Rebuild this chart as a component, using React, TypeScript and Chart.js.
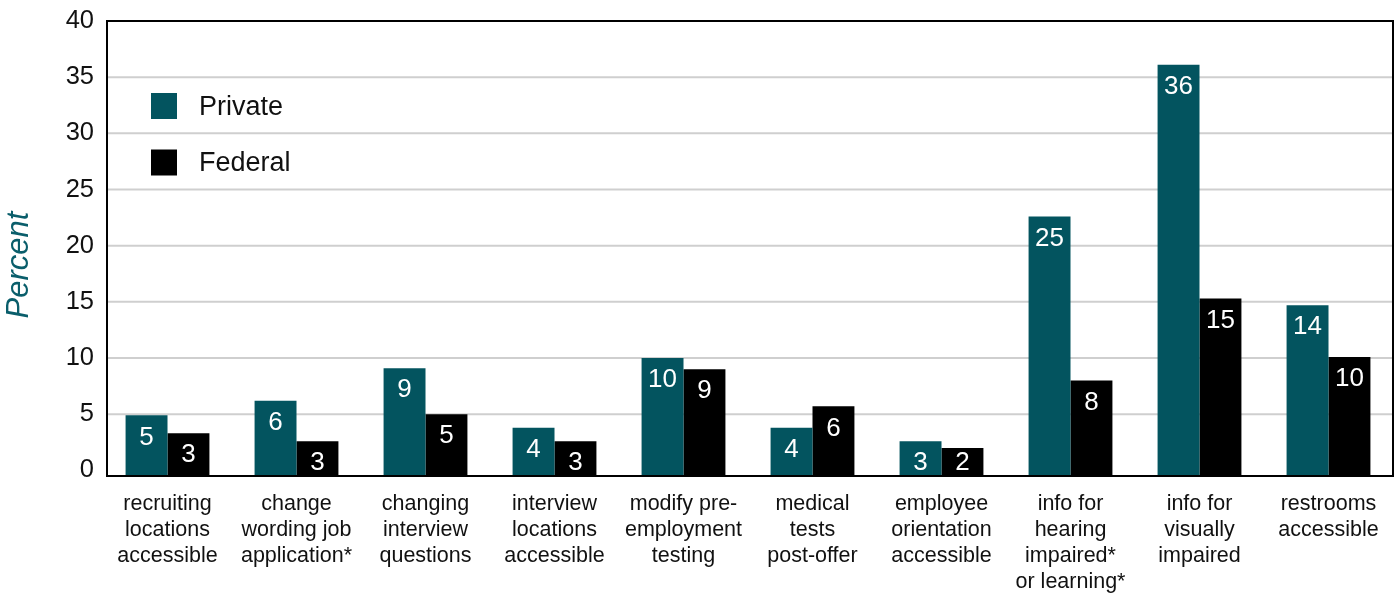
import React, { useEffect, useRef } from "react";
import { Chart, registerables } from "chart.js";

Chart.register(...registerables);

const categories: string[][] = [
  ["recruiting", "locations", "accessible"],
  ["change", "wording job", "application*"],
  ["changing", "interview", "questions"],
  ["interview", "locations", "accessible"],
  ["modify pre-", "employment", "testing"],
  ["medical", "tests", "post-offer"],
  ["employee", "orientation", "accessible"],
  ["info for", "hearing", "impaired*", "or learning*"],
  ["info for", "visually", "impaired"],
  ["restrooms", "accessible"],
];

const seriesNames = ["Private", "Federal"];

// bar heights as drawn in the picture
const privateValues = [4.9, 6.2, 9.1, 3.8, 10.0, 3.8, 2.6, 22.6, 36.1, 14.7];
const federalValues = [3.3, 2.6, 5.0, 2.6, 9.0, 5.7, 2.0, 8.0, 15.3, 10.1];

// numbers printed on the bars
const privateLabels = [5, 6, 9, 4, 10, 4, 3, 25, 36, 14];
const federalLabels = [3, 3, 5, 3, 9, 6, 2, 8, 15, 10];

const tickValues = [0, 5, 10, 15, 20, 25, 30, 35, 40];
const yMin = -0.5;
const yMax = 40;

const axisTitle = "Percent";

const TEAL = "#03545F";
const BLACK = "#000000";
const GRID = "#cfcfcf";
const FONT = '"Liberation Sans", Arial, sans-serif';
const FRAME_LEFT = 107;

const colors = [TEAL, BLACK];
const labelSets = [privateLabels, federalLabels];

const overlayPlugin = {
  id: "overlay",
  beforeDatasetsDraw(chart: any) {
    const ctx = chart.ctx as CanvasRenderingContext2D;
    const { right } = chart.chartArea;
    const ys = chart.scales.y;
    ctx.save();
    ctx.strokeStyle = GRID;
    ctx.lineWidth = 2;
    ys.ticks.forEach((t: any) => {
      if (t.value === 0) return;
      const y = ys.getPixelForValue(t.value);
      ctx.beginPath();
      ctx.moveTo(FRAME_LEFT, y);
      ctx.lineTo(right, y);
      ctx.stroke();
    });
    ctx.restore();
  },
  afterDatasetsDraw(chart: any) {
    const ctx = chart.ctx as CanvasRenderingContext2D;
    const { top, right, bottom } = chart.chartArea;
    ctx.save();

    // value labels inside bars
    ctx.font = `26px ${FONT}`;
    ctx.fillStyle = "#ffffff";
    ctx.textAlign = "center";
    ctx.textBaseline = "middle";
    chart.data.datasets.forEach((_ds: any, i: number) => {
      const meta = chart.getDatasetMeta(i);
      meta.data.forEach((el: any, j: number) => {
        const y = Math.min(el.y + 22, bottom - 13);
        ctx.fillText(String(labelSets[i][j]), el.x, y);
      });
    });

    // frame
    ctx.strokeStyle = "#000";
    ctx.lineWidth = 2;
    ctx.strokeRect(FRAME_LEFT, top, right - FRAME_LEFT, bottom - top);

    // legend
    ctx.font = `27px ${FONT}`;
    ctx.textAlign = "left";
    ctx.textBaseline = "middle";
    seriesNames.forEach((name, i) => {
      const cy = 106 + i * 56.5;
      ctx.fillStyle = colors[i];
      ctx.fillRect(151, cy - 13, 26, 26);
      ctx.fillStyle = "#111";
      ctx.fillText(name, 199, cy + 1.5);
    });

    // y axis title
    ctx.translate(19, 265);
    ctx.rotate(-Math.PI / 2);
    ctx.font = `italic 31px ${FONT}`;
    ctx.fillStyle = "#0A5E6B";
    ctx.textAlign = "center";
    ctx.textBaseline = "middle";
    ctx.fillText(axisTitle, 0, 0);

    ctx.restore();
  },
};

export default function App() {
  const canvasRef = useRef<HTMLCanvasElement | null>(null);

  useEffect(() => {
    if (!canvasRef.current) return;
    const chart = new Chart(canvasRef.current, {
      type: "bar",
      data: {
        labels: categories,
        datasets: [
          {
            label: seriesNames[0],
            data: privateValues,
            backgroundColor: TEAL,
            base: yMin,
            categoryPercentage: 0.65,
            barPercentage: 1.0,
          } as any,
          {
            label: seriesNames[1],
            data: federalValues,
            backgroundColor: BLACK,
            base: yMin,
            categoryPercentage: 0.65,
            barPercentage: 1.0,
          } as any,
        ],
      },
      options: {
        animation: false,
        responsive: true,
        maintainAspectRatio: false,
        layout: { padding: { top: 21, right: 6, left: 0, bottom: 0 } },
        plugins: {
          legend: { display: false },
          tooltip: { enabled: false },
        },
        scales: {
          x: {
            grid: { display: false, drawTicks: false },
            border: { display: false },
            ticks: {
              color: "#111",
              font: { family: FONT, size: 21.5, lineHeight: "26px" as any },
              padding: 15,
              maxRotation: 0,
              autoSkip: false,
            },
            afterFit: (scale: any) => {
              scale.height = 118;
              scale.paddingLeft = 0;
              scale.paddingRight = 0;
            },
          },
          y: {
            min: yMin,
            max: yMax,
            afterBuildTicks: (scale: any) => {
              scale.ticks = tickValues.map((v) => ({ value: v }));
            },
            grid: { display: false, drawTicks: false },
            border: { display: false },
            ticks: {
              color: "#111",
              font: { family: FONT, size: 25.5 },
              padding: 9,
            },
            afterFit: (scale: any) => {
              scale.width = 103;
              scale.paddingTop = 0;
              scale.paddingBottom = 0;
            },
          },
        },
      },
      plugins: [overlayPlugin],
    });
    return () => chart.destroy();
  }, []);

  return (
    <div style={{ position: "fixed", left: 0, top: 0, width: 1399, height: 594, background: "#fff" }}>
      <canvas ref={canvasRef} />
    </div>
  );
}
